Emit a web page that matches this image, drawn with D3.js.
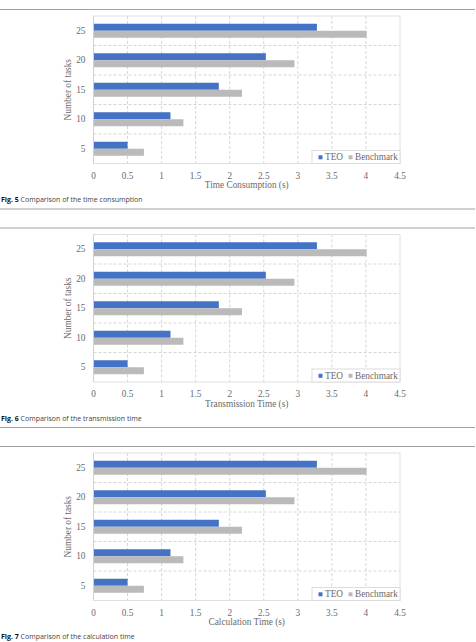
<!DOCTYPE html>
<html>
<head>
<meta charset="utf-8">
<script src="https://cdn.jsdelivr.net/npm/d3@7"></script>
<style>
  body { margin: 0; background: #fff; }
  svg { display: block; }
</style>
</head>
<body>
<div id="chart"></div>
<script>
// data (same in all three panels)
const tasks = [25, 20, 15, 10, 5];
const teoValues = [3.28, 2.53, 1.84, 1.13, 0.50];
const benchValues = [4.01, 2.95, 2.18, 1.32, 0.74];
const xTicks = [0, 0.5, 1, 1.5, 2, 2.5, 3, 3.5, 4, 4.5];
const seriesNames = ["TEO", "Benchmark"];
const xLabels = ["Time Consumption (s)", "Transmission Time (s)", "Calculation Time (s)"];
const figNums = ["Fig. 5", "Fig. 6", "Fig. 7"];
const captions = ["Comparison of the time consumption", "Comparison of the transmission time", "Comparison of the calculation time"];

const W = 476, H = 642;
const colors = { TEO: "#4472c4", Benchmark: "#bababa" };
const serif = "'Liberation Serif', 'Times New Roman', serif";
const textGray = "#6a6a6a";

const svg = d3.select("#chart")
    .append("svg")
    .attr("width", W)
    .attr("height", H);

// plot area of the first panel
const plot = { left: 93.5, right: 400, top: 16, bottom: 163.5 };
const panelStep = 218.5;

const xScale = d3.scaleLinear()
    .domain([0, 4.5])
    .range([plot.left, plot.right]);

const yScale = d3.scaleBand()
    .domain(tasks)
    .range([plot.top, plot.bottom]);

const barH = 7;

function drawPanel(i) {
    const g = svg.append("g")
        .attr("transform", `translate(0,${i * panelStep})`);

    // rules around the figure
    g.append("line")
        .attr("x1", 0).attr("x2", 475)
        .attr("y1", 9.5).attr("y2", 9.5)
        .attr("stroke", "#a3a3a3").attr("stroke-width", 1.2);
    if (i < 2) {
        g.append("line")
            .attr("x1", 0).attr("x2", 475)
            .attr("y1", 209).attr("y2", 209)
            .attr("stroke", "#a3a3a3").attr("stroke-width", 1.2);
    }

    // vertical gridlines
    g.selectAll(".vgrid")
        .data(xTicks.slice(1, -1))
        .enter()
        .append("line")
        .attr("x1", d => xScale(d)).attr("x2", d => xScale(d))
        .attr("y1", plot.top).attr("y2", plot.bottom)
        .attr("stroke", "#d6d6d6")
        .attr("stroke-dasharray", "3,2");

    // horizontal gridlines between categories
    g.selectAll(".hgrid")
        .data(tasks.slice(1))
        .enter()
        .append("line")
        .attr("x1", plot.left).attr("x2", plot.right)
        .attr("y1", d => yScale(d)).attr("y2", d => yScale(d))
        .attr("stroke", "#d6d6d6")
        .attr("stroke-dasharray", "3,2");

    // plot border
    g.append("rect")
        .attr("x", plot.left).attr("y", plot.top)
        .attr("width", plot.right - plot.left)
        .attr("height", plot.bottom - plot.top)
        .attr("fill", "none")
        .attr("stroke", "#e0e0e0");

    // bars
    g.selectAll(".teo")
        .data(tasks)
        .enter()
        .append("rect")
        .attr("x", xScale(0))
        .attr("y", d => yScale(d) + yScale.bandwidth() / 2 - barH)
        .attr("width", (d, k) => xScale(teoValues[k]) - xScale(0))
        .attr("height", barH)
        .attr("fill", colors.TEO);

    g.selectAll(".bench")
        .data(tasks)
        .enter()
        .append("rect")
        .attr("x", xScale(0))
        .attr("y", d => yScale(d) + yScale.bandwidth() / 2)
        .attr("width", (d, k) => xScale(benchValues[k]) - xScale(0))
        .attr("height", barH)
        .attr("fill", colors.Benchmark);

    // axis line on the left
    g.append("line")
        .attr("x1", plot.left).attr("x2", plot.left)
        .attr("y1", plot.top).attr("y2", plot.bottom)
        .attr("stroke", "#d0d0d0");

    // y tick labels
    g.selectAll(".ytick")
        .data(tasks)
        .enter()
        .append("text")
        .attr("x", 85.5)
        .attr("y", d => yScale(d) + yScale.bandwidth() / 2 + 3)
        .attr("text-anchor", "end")
        .style("font-family", serif)
        .style("font-size", "9.3px")
        .style("fill", textGray)
        .text(d => d);

    // x tick labels
    g.selectAll(".xtick")
        .data(xTicks)
        .enter()
        .append("text")
        .attr("x", d => xScale(d))
        .attr("y", 178.5)
        .attr("text-anchor", "middle")
        .style("font-family", serif)
        .style("font-size", "9.3px")
        .style("fill", textGray)
        .text(d => d);

    // x label
    g.append("text")
        .attr("x", (plot.left + plot.right) / 2)
        .attr("y", 188)
        .attr("text-anchor", "middle")
        .style("font-family", serif)
        .style("font-size", "9.3px")
        .style("fill", textGray)
        .text(xLabels[i]);

    // y label
    g.append("text")
        .attr("transform", `translate(71,${(plot.top + plot.bottom) / 2}) rotate(-90)`)
        .attr("text-anchor", "middle")
        .style("font-family", serif)
        .style("font-size", "9.3px")
        .style("fill", textGray)
        .text("Number of tasks");

    // legend
    g.append("rect")
        .attr("x", 312).attr("y", 150.5)
        .attr("width", plot.right - 312)
        .attr("height", plot.bottom - 150.5)
        .attr("fill", "#fff")
        .attr("stroke", "#dcdcdc");

    const legendX = [318.5, 348.5];
    seriesNames.forEach((name, k) => {
        g.append("rect")
            .attr("x", legendX[k]).attr("y", 155.3)
            .attr("width", 4).attr("height", 4)
            .attr("fill", colors[name]);
        g.append("text")
            .attr("x", legendX[k] + 6.5)
            .attr("y", 160.3)
            .style("font-family", serif)
            .style("font-size", "9.3px")
            .style("fill", textGray)
            .text(name);
    });

    // caption
    const cap = g.append("text")
        .attr("x", 1)
        .attr("y", 202)
        .style("font-family", "'Open Sans', 'Noto Sans', sans-serif")
        .style("font-size", "7px")
        .style("fill", "#444");
    cap.append("tspan")
        .style("font-weight", "bold")
        .style("fill", "#111")
        .text(figNums[i]);
    cap.append("tspan")
        .text(" " + captions[i]);
}

[0, 1, 2].forEach(drawPanel);
</script>
</body>
</html>
